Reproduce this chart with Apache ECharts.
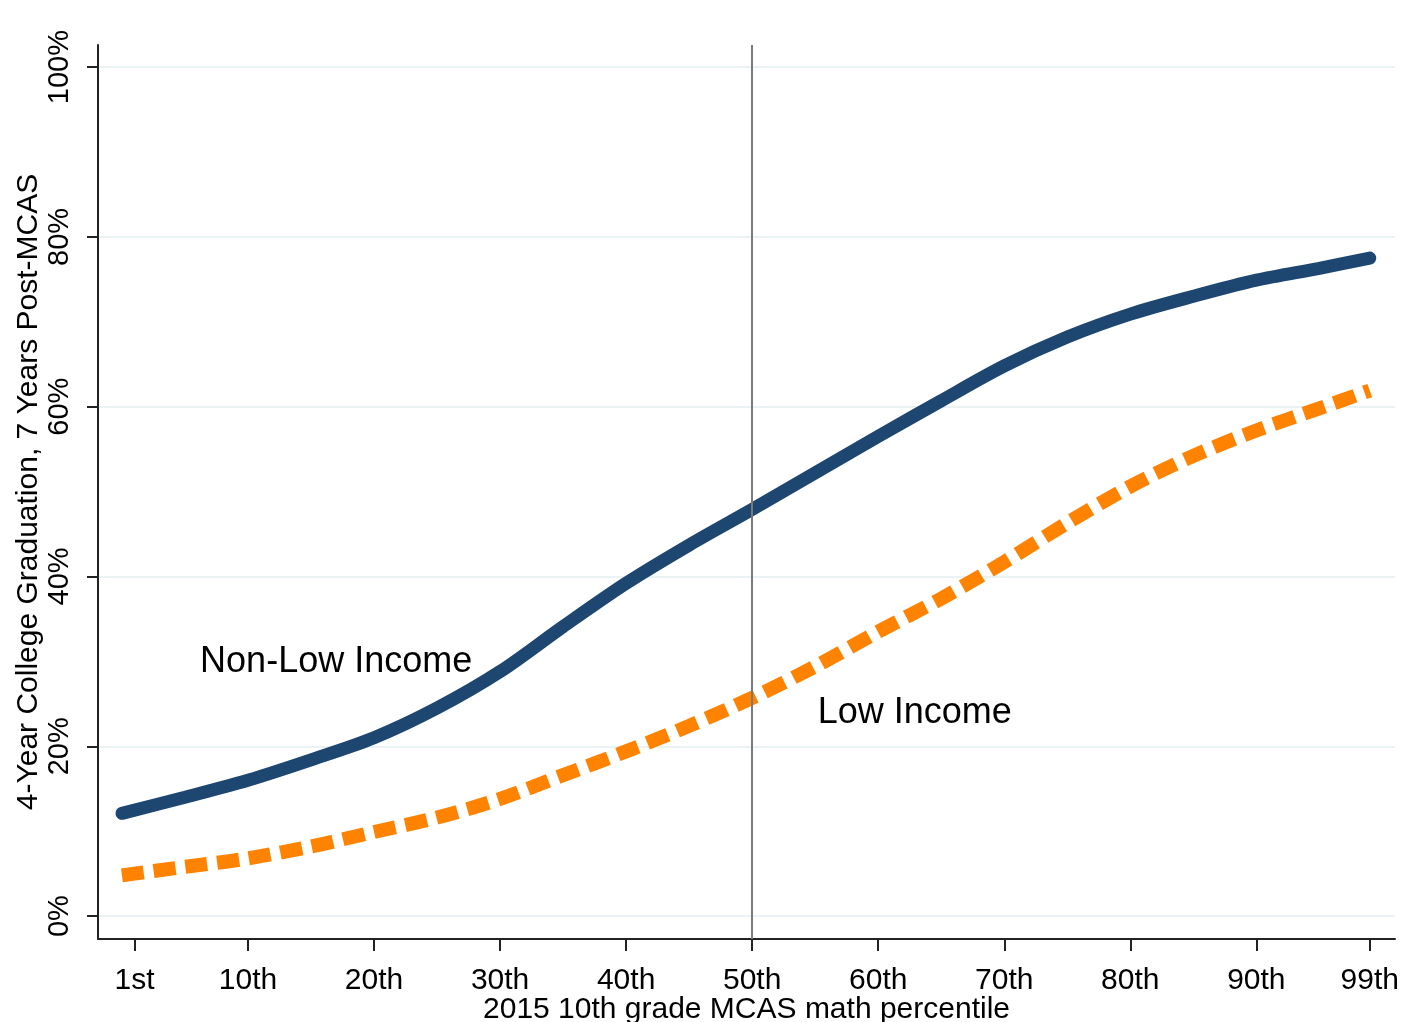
<!DOCTYPE html>
<html>
<head>
<meta charset="utf-8">
<script src="https://cdn.jsdelivr.net/npm/echarts@6/dist/echarts.min.js"></script>
<style>
  html, body { margin: 0; padding: 0; background: #fff; }
  #chart { width: 1403px; height: 1022px; }
</style>
</head>
<body>
<div id="chart"></div>
<script>
const percentiles = [0, 5, 10, 15, 20, 25, 30, 35, 40, 45, 50, 55, 60, 65, 70, 75, 80, 85, 90, 95, 99];
const nonLowIncome = [12.1, 14.0, 16.0, 18.4, 21.0, 24.5, 28.8, 34.1, 39.2, 43.7, 47.9, 52.2, 56.5, 60.7, 64.8, 68.2, 70.9, 73.0, 74.9, 76.3, 77.5];
const lowIncome = [4.8, 5.8, 6.8, 8.2, 9.9, 11.6, 13.8, 16.6, 19.4, 22.4, 25.7, 29.4, 33.5, 37.4, 41.7, 46.3, 50.6, 54.2, 57.2, 59.8, 61.9];

const xTicks = [1, 10, 20, 30, 40, 50, 60, 70, 80, 90, 99];
const xTickLabels = ['1st', '10th', '20th', '30th', '40th', '50th', '60th', '70th', '80th', '90th', '99th'];
const yTicks = [0, 20, 40, 60, 80, 100];

// series labels: [percentile, value, text]
const seriesLabels = [
  [6.2, 29.9, 'Non-Low Income'],
  [55.2, 23.9, 'Low Income']
];
const cutoff = 50;

const font = '"Liberation Sans", Arial, sans-serif';
const chart = echarts.init(document.getElementById('chart'));

chart.setOption({
  animation: false,
  textStyle: { fontFamily: font, color: '#000' },
  grid: { left: 98, right: 8, top: 45, bottom: 83, containLabel: false, outerBoundsMode: 'none' },
  xAxis: {
    type: 'value',
    min: -1.9,
    max: 101,
    name: '2015 10th grade MCAS math percentile',
    nameLocation: 'middle',
    nameGap: 56,
    nameMoveOverlap: false,
    nameTextStyle: { fontSize: 30, fontFamily: font, color: '#000' },
    axisLine: { onZero: false, lineStyle: { color: '#222', width: 2 } },
    axisTick: { customValues: xTicks, length: 12, lineStyle: { color: '#222', width: 2 } },
    axisLabel: {
      customValues: xTicks,
      fontSize: 30,
      margin: 27,
      color: '#000',
      formatter: v => xTickLabels[xTicks.indexOf(v)]
    },
    splitLine: { show: false }
  },
  yAxis: {
    type: 'value',
    min: -2.7,
    max: 102.6,
    name: '4-Year College Graduation, 7 Years Post-MCAS',
    nameLocation: 'middle',
    nameGap: 54,
    nameMoveOverlap: false,
    nameTextStyle: { fontSize: 30, fontFamily: font, color: '#000' },
    axisLine: { show: true, onZero: false, lineStyle: { color: '#222', width: 2 } },
    axisTick: { show: true, customValues: yTicks, length: 11, lineStyle: { color: '#222', width: 2 } },
    axisLabel: {
      customValues: yTicks,
      rotate: 90,
      fontSize: 29,
      margin: 24,
      color: '#000',
      formatter: v => v + '%'
    },
    splitLine: { show: true, lineStyle: { color: '#eaf2f3', width: 2 } }
  },
  series: [
    {
      name: 'Non-Low Income',
      type: 'line',
      data: percentiles.map((p, i) => [p, nonLowIncome[i]]),
      smooth: 0.3,
      symbol: 'none',
      lineStyle: { color: '#1d4670', width: 13, cap: 'round' },
      z: 3,
      markLine: {
        silent: true,
        symbol: 'none',
        label: { show: false },
        lineStyle: { color: '#7a7a7a', width: 2, type: 'solid' },
        data: [{ xAxis: cutoff }]
      }
    },
    {
      name: 'Low Income',
      type: 'line',
      data: percentiles.map((p, i) => [p, lowIncome[i]]),
      smooth: 0.3,
      symbol: 'none',
      lineStyle: { color: '#ff8200', width: 14, type: [22, 10], cap: 'butt' },
      z: 2
    },
    {
      type: 'scatter',
      symbolSize: 0,
      silent: true,
      itemStyle: { opacity: 1, color: 'transparent' },
      data: seriesLabels.map(d => ({ value: [d[0], d[1]], name: d[2] })),
      label: {
        show: true,
        position: 'right',
        distance: 0,
        formatter: p => p.name,
        fontSize: 36,
        fontFamily: font,
        color: '#000'
      },
      z: 4
    }
  ]
});
</script>
</body>
</html>
